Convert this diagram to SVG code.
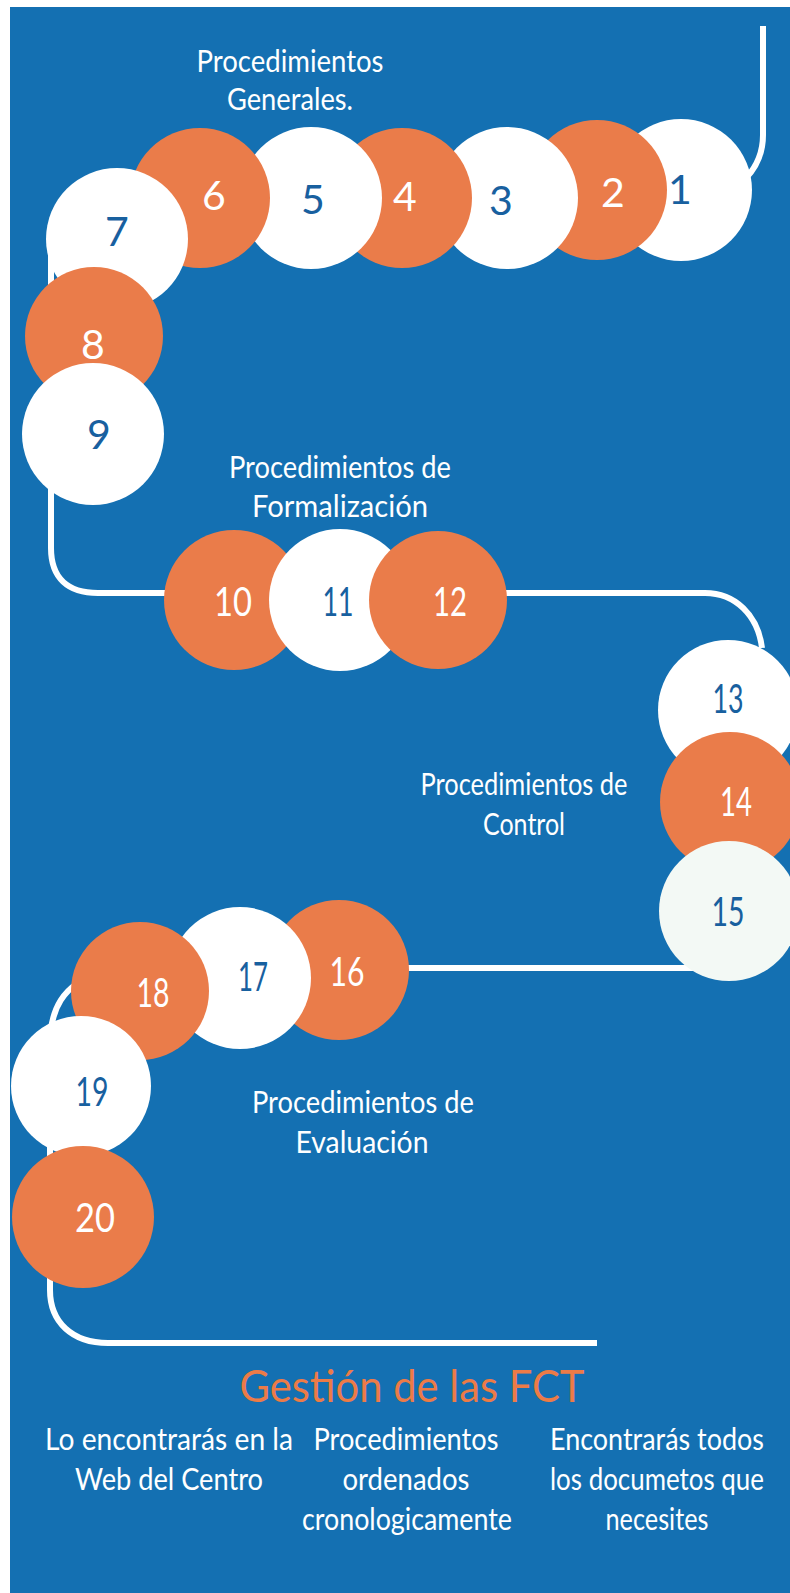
<svg xmlns="http://www.w3.org/2000/svg" width="790" height="1593" viewBox="0 0 790 1593">
<style>
.bg{fill:#1470b2}
.w{fill:#ffffff}
.w2{fill:#f3f9f5}
.o{fill:#ea7c4a}
.line{fill:none;stroke:#ffffff;stroke-width:6}
.num{font-family:Lato,"Noto Sans",sans-serif;font-size:41px;text-anchor:middle}
.nb{fill:#18609f}
.nw{fill:#ffffff}
.lab{font-family:Lato,"Noto Sans",sans-serif;font-size:30px;fill:#ffffff;text-anchor:middle}
.title{font-family:Lato,"Noto Sans",sans-serif;font-size:44px;fill:#ec7b47;text-anchor:middle}
</style>
<rect x="0" y="0" width="790" height="1593" fill="#ffffff"/>
<rect class="bg" x="10" y="7" width="780" height="1586"/>
<g id="connectors">
<path class="line" d="M763,26 V135 Q763,160 746,178"/>
<path class="line" d="M51,235 V548 C51,578 68,593 98,593 H180"/>
<path class="line" d="M500,593 H705 C735,593 758,615 762,648"/>
<path class="line" d="M400,968 H700"/>
<path class="line" d="M100,972 C62,985 50,1010 50,1045 V1290 C50,1322 72,1343 108,1343 H597"/>
</g>
<g id="n1"><circle class="w" cx="681" cy="190" r="71"/><text class="num nb" x="680" y="204">1</text></g>
<g id="n2"><circle class="o" cx="597" cy="190" r="70"/><text class="num nw" x="613" y="207">2</text></g>
<g id="n3"><circle class="w" cx="507" cy="198" r="71"/><text class="num nb" x="501" y="215">3</text></g>
<g id="n4"><circle class="o" cx="402" cy="198" r="70"/><text class="num nw" x="405" y="211">4</text></g>
<g id="n5"><circle class="w" cx="311" cy="198" r="71"/><text class="num nb" x="313" y="214">5</text></g>
<g id="n6"><circle class="o" cx="200" cy="198" r="70"/><text class="num nw" x="214" y="210">6</text></g>
<g id="n7"><circle class="w" cx="117" cy="239" r="71"/><text class="num nb" x="117" y="246">7</text></g>
<g id="n8"><circle class="o" cx="94" cy="336" r="69"/><text class="num nw" x="93" y="359">8</text></g>
<g id="n9"><circle class="w" cx="93" cy="434" r="71"/><text class="num nb" x="99" y="449">9</text></g>
<g id="n10"><circle class="o" cx="234" cy="600" r="70"/><text class="num nw" x="233" y="616" textLength="38" lengthAdjust="spacingAndGlyphs">10</text></g>
<g id="n11"><circle class="w" cx="340" cy="600" r="71"/><text class="num nb" x="338" y="616" textLength="31" lengthAdjust="spacingAndGlyphs">11</text></g>
<g id="n12"><circle class="o" cx="438" cy="600" r="69"/><text class="num nw" x="450" y="616" textLength="34" lengthAdjust="spacingAndGlyphs">12</text></g>
<g id="n13"><circle class="w" cx="728" cy="710" r="70"/><text class="num nb" x="728" y="713" textLength="31" lengthAdjust="spacingAndGlyphs">13</text></g>
<g id="n14"><circle class="o" cx="730" cy="802" r="70"/><text class="num nw" x="736" y="816" textLength="32" lengthAdjust="spacingAndGlyphs">14</text></g>
<g id="n15"><circle class="w2" cx="729" cy="911" r="70"/><text class="num nb" x="728" y="926" textLength="33" lengthAdjust="spacingAndGlyphs">15</text></g>
<g id="n16"><circle class="o" cx="339" cy="970" r="70"/><text class="num nw" x="347" y="986" textLength="35" lengthAdjust="spacingAndGlyphs">16</text></g>
<g id="n17"><circle class="w" cx="240" cy="978" r="71"/><text class="num nb" x="253" y="991" textLength="30" lengthAdjust="spacingAndGlyphs">17</text></g>
<g id="n18"><circle class="o" cx="140" cy="991" r="69"/><text class="num nw" x="153" y="1007" textLength="33" lengthAdjust="spacingAndGlyphs">18</text></g>
<g id="n19"><circle class="w" cx="81" cy="1086" r="70"/><text class="num nb" x="92" y="1106" textLength="33" lengthAdjust="spacingAndGlyphs">19</text></g>
<g id="n20"><circle class="o" cx="83" cy="1217" r="71"/><text class="num nw" x="95" y="1232" textLength="40" lengthAdjust="spacingAndGlyphs">20</text></g>
<g id="label-generales">
<text class="lab" x="290" y="72" textLength="187" lengthAdjust="spacingAndGlyphs">Procedimientos</text>
<text class="lab" x="290" y="110" textLength="126" lengthAdjust="spacingAndGlyphs">Generales.</text>
</g>
<g id="label-formalizacion">
<text class="lab" x="340" y="478" textLength="222" lengthAdjust="spacingAndGlyphs">Procedimientos de</text>
<text class="lab" x="340" y="517" textLength="176" lengthAdjust="spacingAndGlyphs">Formalización</text>
</g>
<g id="label-control">
<text class="lab" x="524" y="795" textLength="207" lengthAdjust="spacingAndGlyphs">Procedimientos de</text>
<text class="lab" x="524" y="835" textLength="82" lengthAdjust="spacingAndGlyphs">Control</text>
</g>
<g id="label-evaluacion">
<text class="lab" x="363" y="1113" textLength="222" lengthAdjust="spacingAndGlyphs">Procedimientos de</text>
<text class="lab" x="362" y="1153" textLength="133" lengthAdjust="spacingAndGlyphs">Evaluación</text>
</g>
<g id="title">
<text class="title" x="412" y="1402" textLength="345" lengthAdjust="spacingAndGlyphs">Gestión de las FCT</text>
</g>
<g id="col1">
<text class="lab" x="169" y="1450" textLength="248" lengthAdjust="spacingAndGlyphs">Lo encontrarás en la</text>
<text class="lab" x="169" y="1490" textLength="188" lengthAdjust="spacingAndGlyphs">Web del Centro</text>
</g>
<g id="col2">
<text class="lab" x="406" y="1450" textLength="185" lengthAdjust="spacingAndGlyphs">Procedimientos</text>
<text class="lab" x="406" y="1490" textLength="127" lengthAdjust="spacingAndGlyphs">ordenados</text>
<text class="lab" x="407" y="1530" textLength="210" lengthAdjust="spacingAndGlyphs">cronologicamente</text>
</g>
<g id="col3">
<text class="lab" x="657" y="1450" textLength="214" lengthAdjust="spacingAndGlyphs">Encontrarás todos</text>
<text class="lab" x="657" y="1490" textLength="214" lengthAdjust="spacingAndGlyphs">los documetos que</text>
<text class="lab" x="657" y="1530" textLength="103" lengthAdjust="spacingAndGlyphs">necesites</text>
</g>
</svg>
